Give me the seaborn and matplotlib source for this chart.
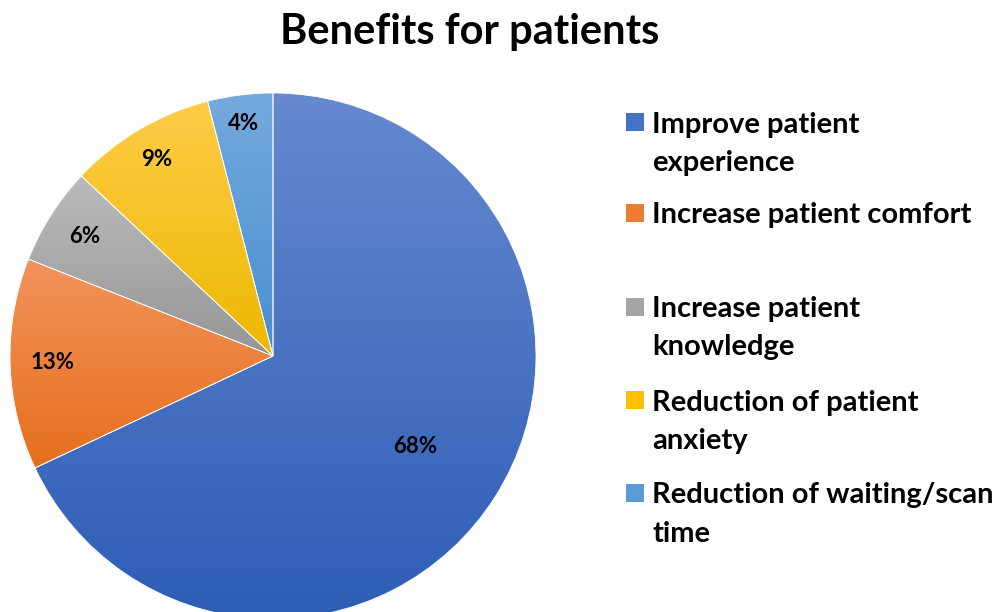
import numpy as np
import matplotlib
matplotlib.use("Agg")
import matplotlib.pyplot as plt
from matplotlib.colors import LinearSegmentedColormap
from matplotlib.patches import Rectangle
import seaborn as sns

# ---- data ----
categories = [
    "Improve patient\nexperience",
    "Increase patient comfort",
    "Increase patient\nknowledge",
    "Reduction of patient\nanxiety",
    "Reduction of waiting/scan\ntime",
]
values = [68, 13, 6, 9, 4]
pct_labels = ["68%", "13%", "6%", "9%", "4%"]
title = "Benefits for patients"

# ---- style ----
base_colors = ["#4472C4", "#ED7D31", "#A5A5A5", "#FFC000", "#5B9BD5"]
top_colors = ["#6689D0", "#F2935C", "#BBBBBB", "#FFCC48", "#74AADE"]
bottom_colors = ["#2D5DB5", "#E66F1C", "#969696", "#ECB800", "#4A8ECF"]
label_radius = [0.64, 0.84, 0.85, 0.87, 0.89]

sns.set_theme(style="white")
plt.rcParams["font.family"] = ["Lato", "DejaVu Sans"]
palette = sns.color_palette(base_colors)

W, H = 996, 612
fig = plt.figure(figsize=(W / 100, H / 100), dpi=100)
fig.patch.set_facecolor("white")

cx, cy, R = 273, 356, 263
ax = fig.add_axes([(cx - R) / W, (H - cy - R) / H, 2 * R / W, 2 * R / H])
ax.set_axis_off()

wedges, _ = ax.pie(values, colors=palette, startangle=90, counterclock=False,
                   radius=1.0, wedgeprops=dict(linewidth=0.6, edgecolor="white"))

grad = np.linspace(1, 0, 256).reshape(-1, 1)
for w, c0, c1 in zip(wedges, top_colors, bottom_colors):
    verts = w.get_path().vertices
    ymin, ymax = verts[:, 1].min(), verts[:, 1].max()
    xmin, xmax = verts[:, 0].min(), verts[:, 0].max()
    cmap = LinearSegmentedColormap.from_list("g", [c1, c0])
    im = ax.imshow(grad, cmap=cmap, extent=[xmin, xmax, ymin, ymax],
                   aspect="auto", zorder=0.5, origin="upper")
    im.set_clip_path(w)
    w.set_facecolor("none")
    w.set_zorder(1)

# percentage labels
for w, lab, rr in zip(wedges, pct_labels, label_radius):
    ang = np.deg2rad((w.theta1 + w.theta2) / 2)
    ax.text(rr * np.cos(ang), rr * np.sin(ang), lab, ha="center", va="center",
            fontsize=16, fontweight="bold", color="black", zorder=3)

ax.set_xlim(-1, 1)
ax.set_ylim(-1, 1)

# title
fig.text(470 / W, 1 - 32 / H, title, ha="center", va="center",
         fontsize=30, fontweight="bold", color="black")

# legend (manual, first line aligned with marker)
entry_y = [122, 213, 307, 400, 493]
line_gap = 38
for lab, ey, col in zip(categories, entry_y, base_colors):
    fig.add_artist(Rectangle((626 / W, 1 - (ey + 9) / H), 18 / W, 18 / H,
                             transform=fig.transFigure, facecolor=col,
                             edgecolor="none"))
    for k, line in enumerate(lab.split("\n")):
        fig.text(652 / W, 1 - (ey + k * line_gap) / H, line, ha="left",
                 va="center_baseline", fontsize=21, fontweight="bold",
                 color="black")

fig.savefig("out.png", dpi=100, facecolor="white")
